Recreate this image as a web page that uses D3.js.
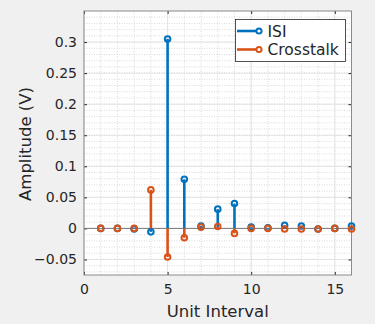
<!DOCTYPE html>
<html>
<head>
<meta charset="utf-8">
<script src="https://cdn.jsdelivr.net/npm/d3@7"></script>
<style>
  body { margin: 0; background: #f0f0f0; }
  text { font-family: "DejaVu Sans", sans-serif; fill: #262626; }
</style>
</head>
<body>
<div id="chart"></div>
<script>
// stem plot: ISI vs crosstalk per unit interval
var unitIntervals = [1, 2, 3, 4, 5, 6, 7, 8, 9, 10, 11, 12, 13, 14, 15, 16];
var isi       = [0, 0, -0.001, -0.0055, 0.305, 0.079, 0.004, 0.031, 0.040, 0.002, 0.001, 0.005, 0.004, -0.001, 0, 0.004];
var crosstalk = [0, 0, 0, 0.062, -0.046, -0.015, 0.002, 0.003, -0.008, 0, 0, -0.001, -0.001, -0.001, 0, -0.001];
var xTicks = [0, 5, 10, 15];
var yTicks = [-0.05, 0, 0.05, 0.1, 0.15, 0.2, 0.25, 0.3];
var seriesNames = ["ISI", "Crosstalk"];
var colors = ["#0072bd", "#d95319"];

var width = 375,
    height = 324;

var plotL = 84, plotR = 351.5, plotT = 11, plotB = 275;

var svg = d3.select("#chart").append("svg")
    .attr("width", width)
    .attr("height", height);

var x = d3.scaleLinear().domain([0, 16]).range([plotL, plotR]);
var y = d3.scaleLinear().domain([-0.075, 0.35]).range([plotB, plotT]);

// axes background
svg.append("rect")
  .attr("x", plotL).attr("y", plotT)
  .attr("width", plotR - plotL).attr("height", plotB - plotT)
  .attr("fill", "white");

// minor grid
var g = svg.append("g");
d3.range(1, 16).forEach(function(v) {
  g.append("line")
    .attr("x1", x(v)).attr("x2", x(v)).attr("y1", plotT).attr("y2", plotB)
    .attr("stroke", "#d0d0d0").attr("stroke-width", 0.8).attr("stroke-dasharray", "1,1.5");
});
d3.range(-7, 35).forEach(function(i) {
  var v = i / 100;
  g.append("line")
    .attr("x1", plotL).attr("x2", plotR).attr("y1", y(v)).attr("y2", y(v))
    .attr("stroke", "#d0d0d0").attr("stroke-width", 0.8).attr("stroke-dasharray", "1,1.5");
});
// major grid
xTicks.forEach(function(v) {
  g.append("line")
    .attr("x1", x(v)).attr("x2", x(v)).attr("y1", plotT).attr("y2", plotB)
    .attr("stroke", "#dedede").attr("stroke-width", 0.8);
});
yTicks.forEach(function(v) {
  g.append("line")
    .attr("x1", plotL).attr("x2", plotR).attr("y1", y(v)).attr("y2", y(v))
    .attr("stroke", "#dedede").attr("stroke-width", 0.8);
});

// axes with inward ticks
svg.append("g")
  .attr("transform", "translate(0," + plotB + ")")
  .call(d3.axisBottom(x).tickValues(xTicks).tickSizeInner(-3).tickSizeOuter(0).tickPadding(9))
  .call(function(s) {
    s.select(".domain").remove();
    s.selectAll("line").attr("stroke", "#262626");
    s.selectAll("text").style("font-size", "14px").attr("fill", "#262626");
  });
svg.append("g")
  .attr("transform", "translate(" + plotL + ",0)")
  .call(d3.axisLeft(y).tickValues(yTicks).tickFormat(d3.format("~g")).tickSizeInner(-3).tickSizeOuter(0).tickPadding(7))
  .call(function(s) {
    s.select(".domain").remove();
    s.selectAll("line").attr("stroke", "#262626");
    s.selectAll("text").style("font-size", "14px").attr("fill", "#262626");
  });
svg.append("g")
  .attr("transform", "translate(0," + plotT + ")")
  .call(d3.axisTop(x).tickValues(xTicks).tickSizeInner(-3).tickSizeOuter(0).tickFormat(""))
  .call(function(s) { s.select(".domain").remove(); s.selectAll("line").attr("stroke", "#262626"); });
svg.append("g")
  .attr("transform", "translate(" + plotR + ",0)")
  .call(d3.axisRight(y).tickValues(yTicks).tickSizeInner(-3).tickSizeOuter(0).tickFormat(""))
  .call(function(s) { s.select(".domain").remove(); s.selectAll("line").attr("stroke", "#262626"); });

// box
svg.append("rect")
  .attr("x", plotL).attr("y", plotT)
  .attr("width", plotR - plotL).attr("height", plotB - plotT)
  .attr("fill", "none").attr("stroke", "#8a8a8a").attr("stroke-width", 1);

// baseline
svg.append("line")
  .attr("x1", plotL).attr("x2", plotR).attr("y1", y(0)).attr("y2", y(0))
  .attr("stroke", "#7a7a7a").attr("stroke-width", 1);

// stems
[isi, crosstalk].forEach(function(series, si) {
  var s = svg.append("g");
  s.selectAll("line").data(series).enter().append("line")
    .attr("x1", function(d, i) { return x(unitIntervals[i]); })
    .attr("x2", function(d, i) { return x(unitIntervals[i]); })
    .attr("y1", y(0))
    .attr("y2", function(d) { return y(d); })
    .attr("stroke", colors[si]).attr("stroke-width", 2.6);
  s.selectAll("circle").data(series).enter().append("circle")
    .attr("cx", function(d, i) { return x(unitIntervals[i]); })
    .attr("cy", function(d) { return y(d); })
    .attr("r", 2.8)
    .attr("fill", "none").attr("stroke", colors[si]).attr("stroke-width", 2);
});

// legend
var lg = svg.append("g");
lg.append("rect")
  .attr("x", 235.5).attr("y", 19.5).attr("width", 110).attr("height", 42)
  .attr("fill", "white").attr("stroke", "#262626").attr("stroke-width", 0.8);
seriesNames.forEach(function(name, i) {
  var ly = 31 + i * 18.5;
  lg.append("line").attr("x1", 237).attr("x2", 259).attr("y1", ly).attr("y2", ly)
    .attr("stroke", colors[i]).attr("stroke-width", 2.6);
  lg.append("circle").attr("cx", 259).attr("cy", ly).attr("r", 2.6)
    .attr("fill", "white").attr("stroke", colors[i]).attr("stroke-width", 2);
  lg.append("text").attr("x", 267.5).attr("y", ly + 5.5)
    .style("font-size", "15.5px").text(name);
});

// axis labels
svg.append("text")
  .attr("x", (plotL + plotR) / 2).attr("y", 317)
  .attr("text-anchor", "middle").style("font-size", "16.5px")
  .text("Unit Interval");
svg.append("text")
  .attr("transform", "translate(31," + 144 + ") rotate(-90)")
  .attr("text-anchor", "middle").style("font-size", "16.5px")
  .text("Amplitude (V)");
</script>
</body>
</html>
